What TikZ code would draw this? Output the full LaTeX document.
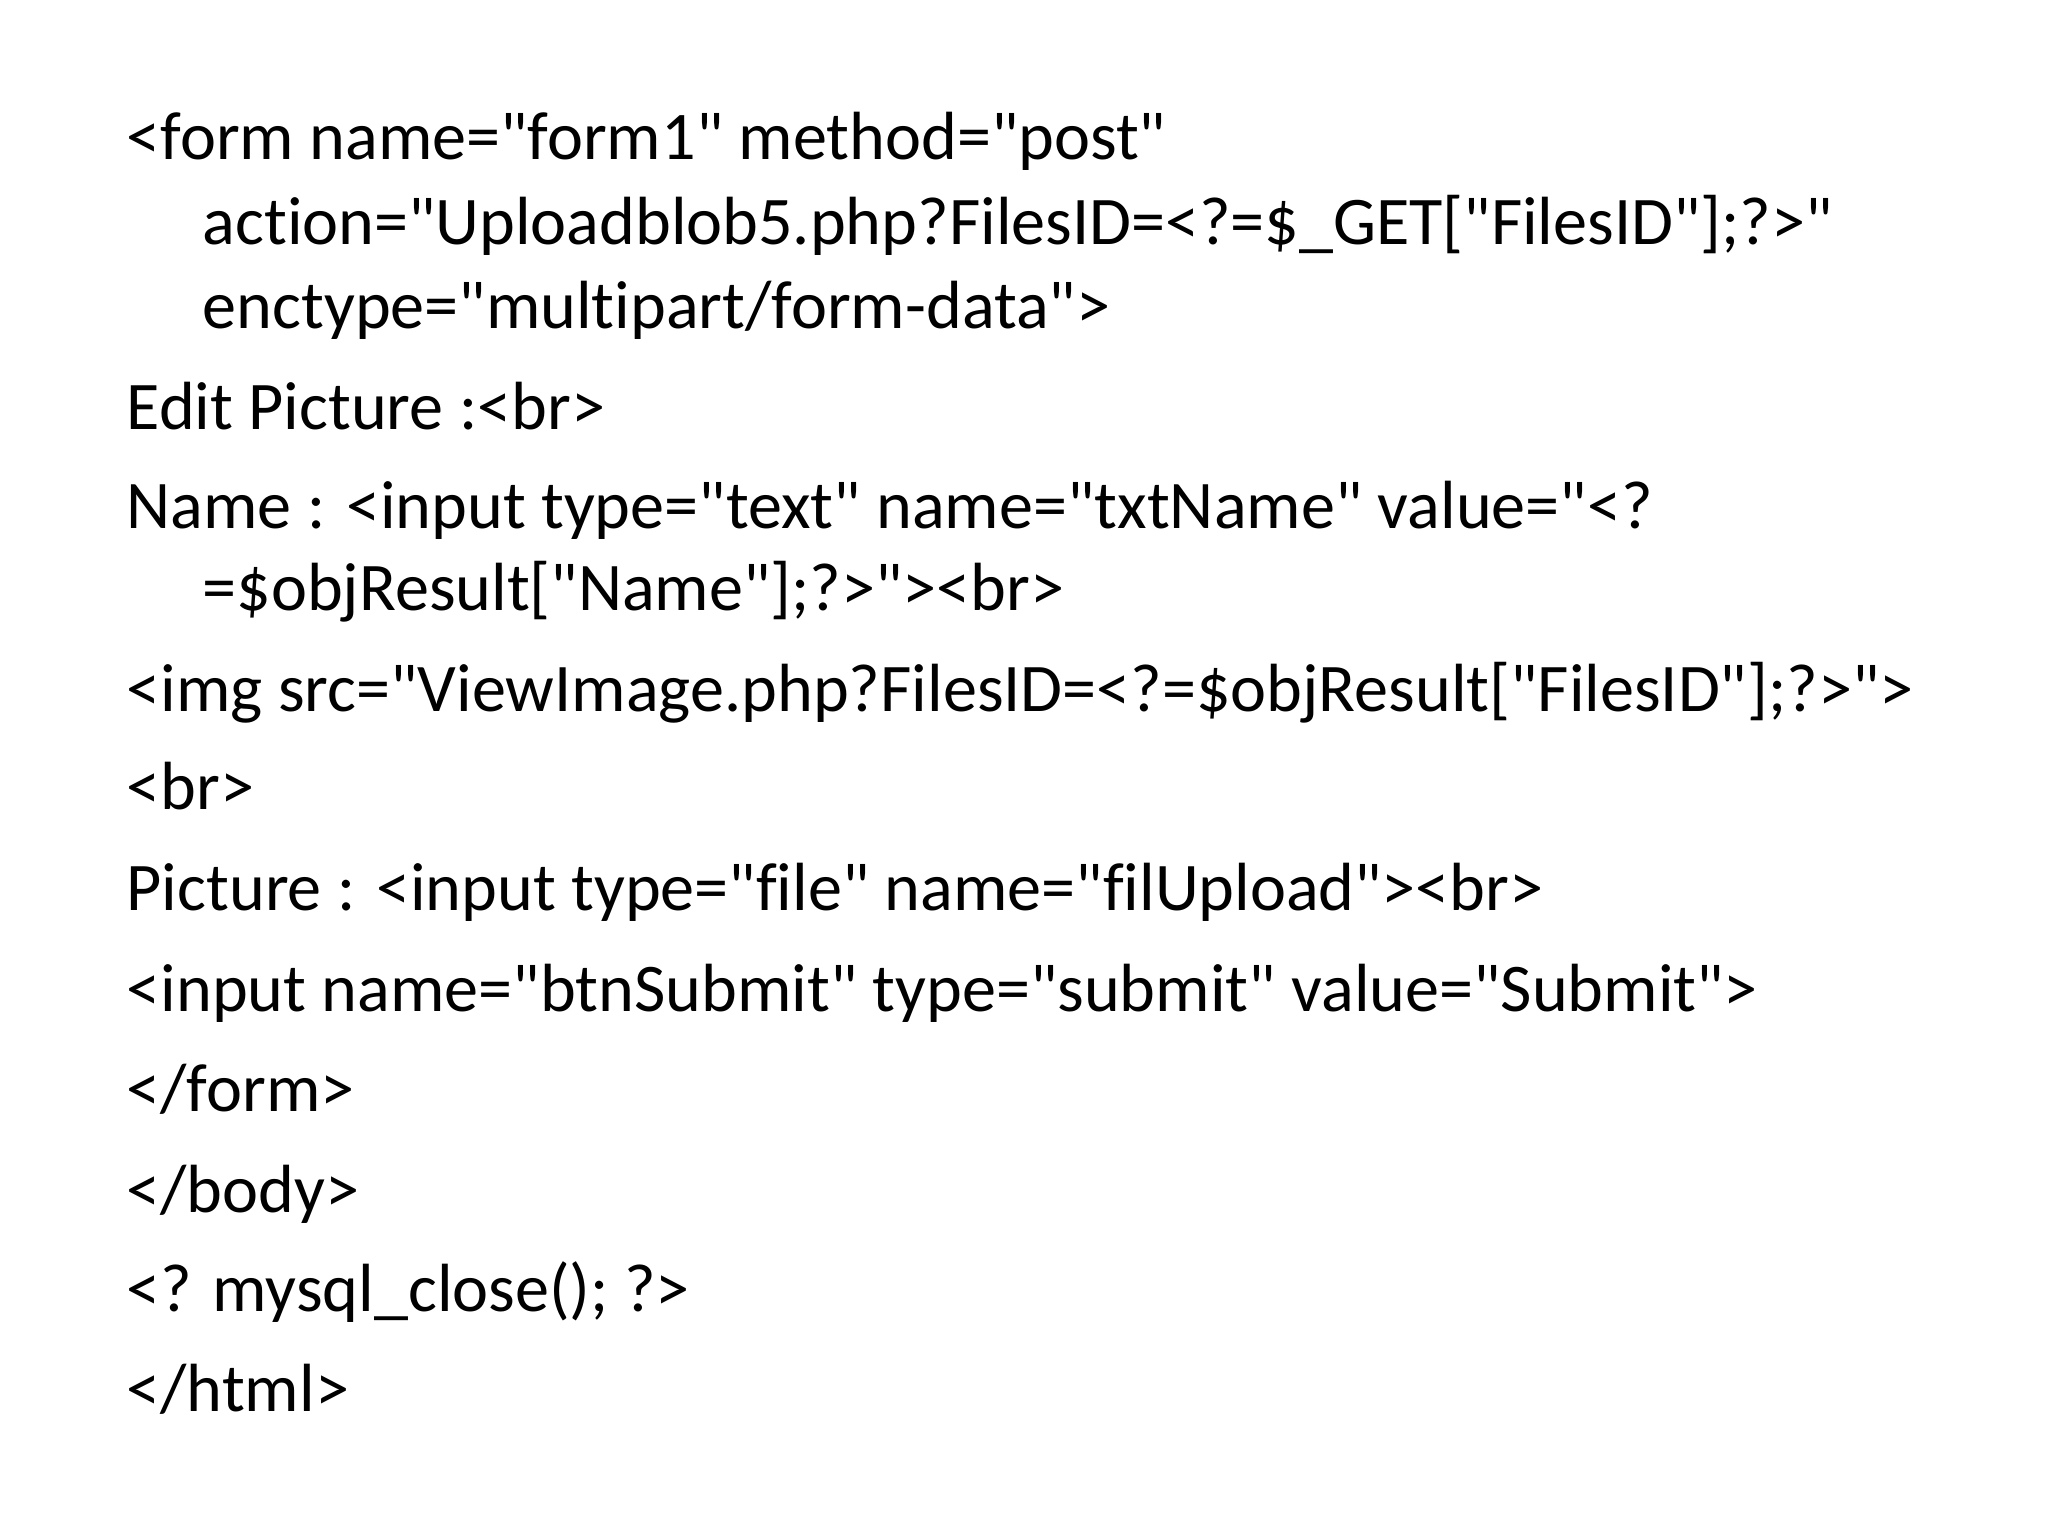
\documentclass[tikz,border=0pt]{standalone}
\usepackage{fontspec}
\newfontfamily\codefont[RawFeature=-liga]{Carlito}
\begin{document}
\begin{tikzpicture}[x=1cm,y=-1cm]
\tikzset{code/.style={anchor=base west, inner sep=0pt, font=\codefont\fontsize{19.4pt}{23pt}\selectfont}}
\useasboundingbox (0,0) rectangle (20.48,15.36);
\node [code] (l1) at (1.26,1.60) {<form name="form1" method="post"};
\node [code] (l2) at (2.02,2.45) {action="Uploadblob5.php?FilesID=<?=\$\_GET["FilesID"];?>"};
\node [code] (l3) at (2.02,3.29) {enctype="multipart/form-data">};
\node [code] (l4) at (1.26,4.30) {Edit Picture :<br>};
\node [code] (l5) at (1.26,5.29) {Name : <input type="text" name="txtName" value="<?};
\node [code] (l6) at (2.02,6.11) {=\$objResult["Name"];?>"><br>};
\node [code] (l7) at (1.26,7.11) {<img src="ViewImage.php?FilesID=<?=\$objResult["FilesID"];?>">};
\node [code] (l8) at (1.26,8.10) {<br>};
\node [code] (l9) at (1.26,9.11) {Picture : <input type="file" name="filUpload"><br>};
\node [code] (l10) at (1.26,10.11) {<input name="btnSubmit" type="submit" value="Submit">};
\node [code] (l11) at (1.26,11.12) {</form>};
\node [code] (l12) at (1.26,12.12) {</body>};
\node [code] (l13) at (1.26,13.11) {<? mysql\_close(); ?>};
\node [code] (l14) at (1.26,14.11) {</html>};
\end{tikzpicture}
\end{document}
